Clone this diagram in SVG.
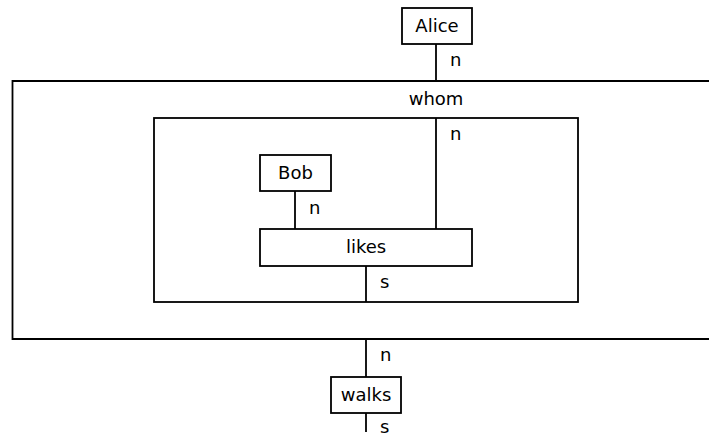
<svg xmlns="http://www.w3.org/2000/svg" width="709" height="436" viewBox="0 0 709 436">
<style>
.box{fill:#fff;stroke:#000;stroke-width:1.8}
.frame{fill:none;stroke:#000;stroke-width:1.8}
.w{stroke:#000;stroke-width:1.8;fill:none}
text{font-family:"DejaVu Sans",sans-serif;font-size:18px;fill:#000}
.c{text-anchor:middle}
</style>
<rect width="709" height="436" fill="#fff"/>
<g id="frame-outer"><path class="frame" d="M720,81 H12.5 V339 H720"/><text class="c" x="436" y="105">whom</text></g>
<g id="frame-inner"><rect class="frame" x="154" y="118" width="424" height="184"/></g>
<g id="connectors">
<line class="w" x1="436" y1="44" x2="436" y2="81"/>
<line class="w" x1="436" y1="118" x2="436" y2="229"/>
<line class="w" x1="295" y1="191" x2="295" y2="229"/>
<line class="w" x1="366" y1="266" x2="366" y2="302"/>
<line class="w" x1="366" y1="339" x2="366" y2="377"/>
<line class="w" x1="366" y1="413" x2="366" y2="432"/>
<text x="450" y="66">n</text>
<text x="450" y="140">n</text>
<text x="309" y="214">n</text>
<text x="380" y="288">s</text>
<text x="380" y="361">n</text>
<text x="380" y="433">s</text>
</g>
<g id="alice"><rect class="box" x="402" y="8" width="70" height="36"/><text class="c" x="437" y="32">Alice</text></g>
<g id="bob"><rect class="box" x="260" y="155" width="71" height="36"/><text class="c" x="295.5" y="179">Bob</text></g>
<g id="likes"><rect class="box" x="260" y="229" width="212" height="37"/><text class="c" x="366" y="253">likes</text></g>
<g id="walks"><rect class="box" x="331" y="377" width="70" height="36"/><text class="c" x="366" y="401">walks</text></g>
</svg>
